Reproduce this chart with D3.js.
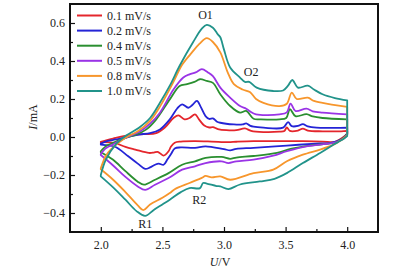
<!DOCTYPE html>
<html lang="en">
<head>
  <meta charset="utf-8" />
  <style>
    body { margin: 0; background: #fff; }
    text { font-family: "Liberation Serif", "Times New Roman", serif; fill: #222; }
    .axis path { display: none; }
    .axis line { stroke: #111; stroke-width: 1.2px; }
    .axis text { font-size: 12px; }
  </style>
</head>
<body>
<script src="https://d3js.org/d3.v7.min.js"></script>
<script>
// scan rates and styles
var rates = ["0.1 mV/s", "0.2 mV/s", "0.4 mV/s", "0.5 mV/s", "0.8 mV/s", "1.0 mV/s"];
var colors = ["#e4262c", "#2424d6", "#2a8f30", "#9a34e6", "#f7962c", "#21938a"];

var xTicks = [2.0, 2.5, 3.0, 3.5, 4.0];
var xMinor = [2.25, 2.75, 3.25, 3.75];
var yTicks = [-0.4, -0.2, 0.0, 0.2, 0.4, 0.6];
var yMinor = [-0.3, -0.1, 0.1, 0.3, 0.5];

// anodic scans (2.0 -> 4.0 V), [U, I]
var a01 = [[2.0,-0.025],[2.1,-0.008],[2.23,0.01],[2.35,0.015],[2.45,0.02],[2.52,0.05],[2.59,0.1],[2.63,0.114],[2.68,0.093],[2.72,0.1],[2.765,0.119],[2.8,0.09],[2.84,0.06],[2.88,0.05],[2.91,0.052],[2.95,0.042],[3.02,0.036],[3.1,0.036],[3.17,0.045],[3.22,0.032],[3.32,0.026],[3.45,0.028],[3.49,0.032],[3.51,0.05],[3.535,0.032],[3.6,0.034],[3.64,0.044],[3.68,0.034],[3.8,0.03],[3.95,0.03],[4.0,0.032]];
var a02 = [[2.0,-0.035],[2.05,-0.022],[2.12,-0.013],[2.22,0.0],[2.31,0.013],[2.4,0.02],[2.48,0.04],[2.56,0.093],[2.62,0.15],[2.66,0.172],[2.71,0.154],[2.745,0.17],[2.78,0.19],[2.81,0.16],[2.85,0.11],[2.88,0.095],[2.91,0.098],[2.94,0.082],[2.97,0.075],[3.08,0.066],[3.15,0.066],[3.18,0.072],[3.21,0.06],[3.24,0.054],[3.32,0.049],[3.48,0.049],[3.52,0.078],[3.55,0.057],[3.6,0.058],[3.64,0.068],[3.68,0.056],[3.75,0.049],[3.9,0.048],[4.0,0.049]];
var a04 = [[2.0,-0.075],[2.05,-0.045],[2.1,-0.031],[2.2,-0.005],[2.29,0.013],[2.37,0.04],[2.45,0.093],[2.56,0.198],[2.64,0.269],[2.7,0.278],[2.76,0.29],[2.805,0.304],[2.86,0.295],[2.91,0.285],[2.97,0.225],[3.05,0.163],[3.13,0.128],[3.18,0.137],[3.24,0.096],[3.3,0.093],[3.45,0.093],[3.505,0.1],[3.535,0.146],[3.58,0.11],[3.67,0.12],[3.72,0.108],[3.8,0.1],[4.0,0.093]];
var a05 = [[2.0,-0.09],[2.04,-0.06],[2.07,-0.049],[2.15,-0.02],[2.23,0.004],[2.32,0.03],[2.4,0.07],[2.48,0.128],[2.59,0.25],[2.67,0.313],[2.72,0.33],[2.77,0.34],[2.82,0.357],[2.87,0.34],[2.91,0.32],[2.97,0.26],[3.05,0.207],[3.13,0.163],[3.18,0.149],[3.21,0.135],[3.26,0.119],[3.45,0.119],[3.51,0.13],[3.54,0.176],[3.58,0.137],[3.67,0.149],[3.72,0.135],[3.8,0.128],[4.0,0.119]];
var a08 = [[2.0,-0.165],[2.04,-0.1],[2.08,-0.066],[2.2,-0.004],[2.3,0.03],[2.4,0.085],[2.48,0.16],[2.59,0.29],[2.66,0.38],[2.74,0.445],[2.8,0.49],[2.86,0.52],[2.91,0.5],[2.97,0.445],[3.03,0.34],[3.08,0.278],[3.15,0.25],[3.21,0.237],[3.26,0.2],[3.32,0.18],[3.45,0.163],[3.51,0.175],[3.55,0.234],[3.59,0.2],[3.68,0.207],[3.73,0.19],[3.8,0.18],[4.0,0.158]];
var a10 = [[2.0,-0.2],[2.04,-0.12],[2.12,-0.04],[2.2,0.005],[2.31,0.049],[2.4,0.1],[2.48,0.18],[2.56,0.27],[2.64,0.375],[2.75,0.5],[2.82,0.57],[2.86,0.59],[2.91,0.575],[2.95,0.54],[2.97,0.525],[3.0,0.46],[3.05,0.366],[3.13,0.313],[3.17,0.29],[3.205,0.29],[3.265,0.26],[3.4,0.242],[3.48,0.245],[3.52,0.27],[3.554,0.3],[3.6,0.26],[3.68,0.27],[3.73,0.25],[3.8,0.225],[3.9,0.205],[4.0,0.193]];

// cathodic scans (4.0 -> 2.0 V)
var c01 = [[4.0,0.018],[3.97,0.0],[3.92,-0.02],[3.89,-0.027],[3.8,-0.024],[3.64,-0.022],[3.4,-0.022],[3.24,-0.022],[3.1,-0.025],[3.035,-0.027],[2.9,-0.024],[2.765,-0.022],[2.65,-0.024],[2.6,-0.03],[2.57,-0.05],[2.55,-0.075],[2.51,-0.098],[2.48,-0.085],[2.46,-0.078],[2.43,-0.082],[2.39,-0.084],[2.28,-0.066],[2.2,-0.052],[2.11,-0.031],[2.0,-0.027]];
var c02 = [[4.0,0.018],[3.97,-0.005],[3.92,-0.022],[3.86,-0.032],[3.78,-0.034],[3.51,-0.045],[3.24,-0.057],[3.1,-0.062],[3.05,-0.07],[3.0,-0.064],[2.85,-0.049],[2.765,-0.057],[2.65,-0.055],[2.6,-0.06],[2.57,-0.09],[2.54,-0.119],[2.51,-0.146],[2.47,-0.14],[2.44,-0.146],[2.4,-0.16],[2.36,-0.168],[2.3,-0.14],[2.22,-0.1],[2.15,-0.065],[2.11,-0.05],[2.0,-0.04]];
var c04 = [[4.0,0.015],[3.97,-0.005],[3.92,-0.025],[3.86,-0.034],[3.7,-0.045],[3.54,-0.063],[3.43,-0.084],[3.24,-0.1],[3.1,-0.108],[3.05,-0.115],[2.98,-0.105],[2.85,-0.11],[2.765,-0.128],[2.66,-0.146],[2.55,-0.19],[2.44,-0.225],[2.35,-0.251],[2.3,-0.235],[2.2,-0.18],[2.1,-0.12],[2.0,-0.08]];
var c05 = [[4.0,0.012],[3.97,-0.008],[3.92,-0.025],[3.86,-0.034],[3.67,-0.049],[3.51,-0.075],[3.4,-0.098],[3.24,-0.119],[3.1,-0.128],[3.035,-0.137],[2.98,-0.128],[2.85,-0.137],[2.765,-0.154],[2.66,-0.172],[2.55,-0.216],[2.44,-0.251],[2.36,-0.278],[2.3,-0.26],[2.2,-0.21],[2.1,-0.15],[2.0,-0.095]];
var c08 = [[4.0,0.01],[3.97,-0.008],[3.93,-0.025],[3.89,-0.04],[3.78,-0.066],[3.64,-0.093],[3.51,-0.128],[3.4,-0.172],[3.24,-0.19],[3.05,-0.225],[2.97,-0.207],[2.9,-0.212],[2.85,-0.205],[2.82,-0.215],[2.72,-0.242],[2.6,-0.275],[2.56,-0.295],[2.5,-0.32],[2.4,-0.355],[2.345,-0.385],[2.3,-0.36],[2.2,-0.29],[2.1,-0.225],[2.0,-0.17]];
var c10 = [[4.0,0.005],[3.97,-0.01],[3.93,-0.025],[3.89,-0.04],[3.78,-0.084],[3.64,-0.137],[3.51,-0.19],[3.41,-0.22],[3.29,-0.234],[3.13,-0.25],[3.035,-0.274],[2.97,-0.26],[2.94,-0.258],[2.86,-0.245],[2.83,-0.242],[2.805,-0.269],[2.72,-0.269],[2.65,-0.29],[2.56,-0.33],[2.5,-0.355],[2.43,-0.384],[2.36,-0.415],[2.29,-0.39],[2.2,-0.33],[2.1,-0.265],[2.0,-0.207]];

var anodic = [a01, a02, a04, a05, a08, a10];
var cathodic = [c01, c02, c04, c05, c08, c10];

// peak labels
var peaks = [["O1", 2.85, 0.645], ["O2", 3.22, 0.345], ["R1", 2.36, -0.455], ["R2", 2.8, -0.33]];

var W = 409, H = 271;
var L = 70, R = 378, T = 4, B = 232;

var svg = d3.select("body").append("svg")
  .attr("width", W)
  .attr("height", H);

var x = d3.scaleLinear().domain([1.75, 4.25]).range([L, R]);
var y = d3.scaleLinear().domain([-0.5, 0.7]).range([B, T]);

var line = d3.line()
  .x(function(d){ return x(d[0]); })
  .y(function(d){ return y(d[1]); })
  .curve(d3.curveCatmullRom.alpha(0.5));

// each loop: anodic branch, straight turn at 4.0 V, cathodic branch, close at 2.0 V
function loop(i) {
  return line(anodic[i]) + line(cathodic[i]).replace(/^M/, "L") + "Z";
}

svg.append("g")
  .selectAll("path")
  .data(rates)
  .enter()
  .append("path")
    .attr("d", function(d, i){ return loop(i); })
    .attr("fill", "none")
    .attr("stroke", function(d, i){ return colors[i]; })
    .attr("stroke-width", 1.8)
    .attr("stroke-linejoin", "round");

// axes, ticks inside
svg.append("g")
  .attr("class", "axis")
  .attr("transform", "translate(0," + B + ")")
  .call(d3.axisBottom(x).tickValues(xTicks).tickSize(-5).tickPadding(8).tickFormat(d3.format(".1f")));

svg.append("g")
  .attr("class", "axis")
  .attr("transform", "translate(0," + B + ")")
  .call(d3.axisBottom(x).tickValues(xMinor).tickSize(-3).tickFormat(""));

svg.append("g")
  .attr("class", "axis")
  .attr("transform", "translate(" + L + ",0)")
  .call(d3.axisLeft(y).tickValues(yTicks).tickSize(-5).tickPadding(5).tickFormat(d3.format(".1f")));

svg.append("g")
  .attr("class", "axis")
  .attr("transform", "translate(" + L + ",0)")
  .call(d3.axisLeft(y).tickValues(yMinor).tickSize(-3).tickFormat(""));

svg.append("rect")
  .attr("x", L)
  .attr("y", T)
  .attr("width", R - L)
  .attr("height", B - T)
  .attr("fill", "none")
  .attr("stroke", "#111")
  .attr("stroke-width", 2);

// axis titles
svg.append("text")
  .attr("x", (L + R) / 2 - 4)
  .attr("y", 266)
  .attr("text-anchor", "middle")
  .style("font-size", "12px")
  .html('<tspan font-style="italic">U</tspan>/V');

svg.append("text")
  .attr("transform", "translate(37,117) rotate(-90)")
  .attr("text-anchor", "middle")
  .style("font-size", "12px")
  .html('<tspan font-style="italic">I</tspan>/mA');

// peak labels
svg.selectAll(".peak")
  .data(peaks)
  .enter()
  .append("text")
    .attr("class", "peak")
    .attr("x", function(d){ return x(d[1]); })
    .attr("y", function(d){ return y(d[2]); })
    .attr("text-anchor", "middle")
    .attr("dy", "0.35em")
    .style("font-size", "12px")
    .text(function(d){ return d[0]; });

// legend
var legend = svg.append("g")
  .selectAll("g")
  .data(rates)
  .enter()
  .append("g")
    .attr("transform", function(d, i){ return "translate(77," + (15.5 + i * 15.1) + ")"; });

legend.append("line")
  .attr("x1", 0)
  .attr("x2", 25)
  .attr("stroke", function(d, i){ return colors[i]; })
  .attr("stroke-width", 2);

legend.append("text")
  .attr("x", 30)
  .attr("dy", "0.35em")
  .style("font-size", "12px")
  .text(function(d){ return d; });
</script>
</body>
</html>
